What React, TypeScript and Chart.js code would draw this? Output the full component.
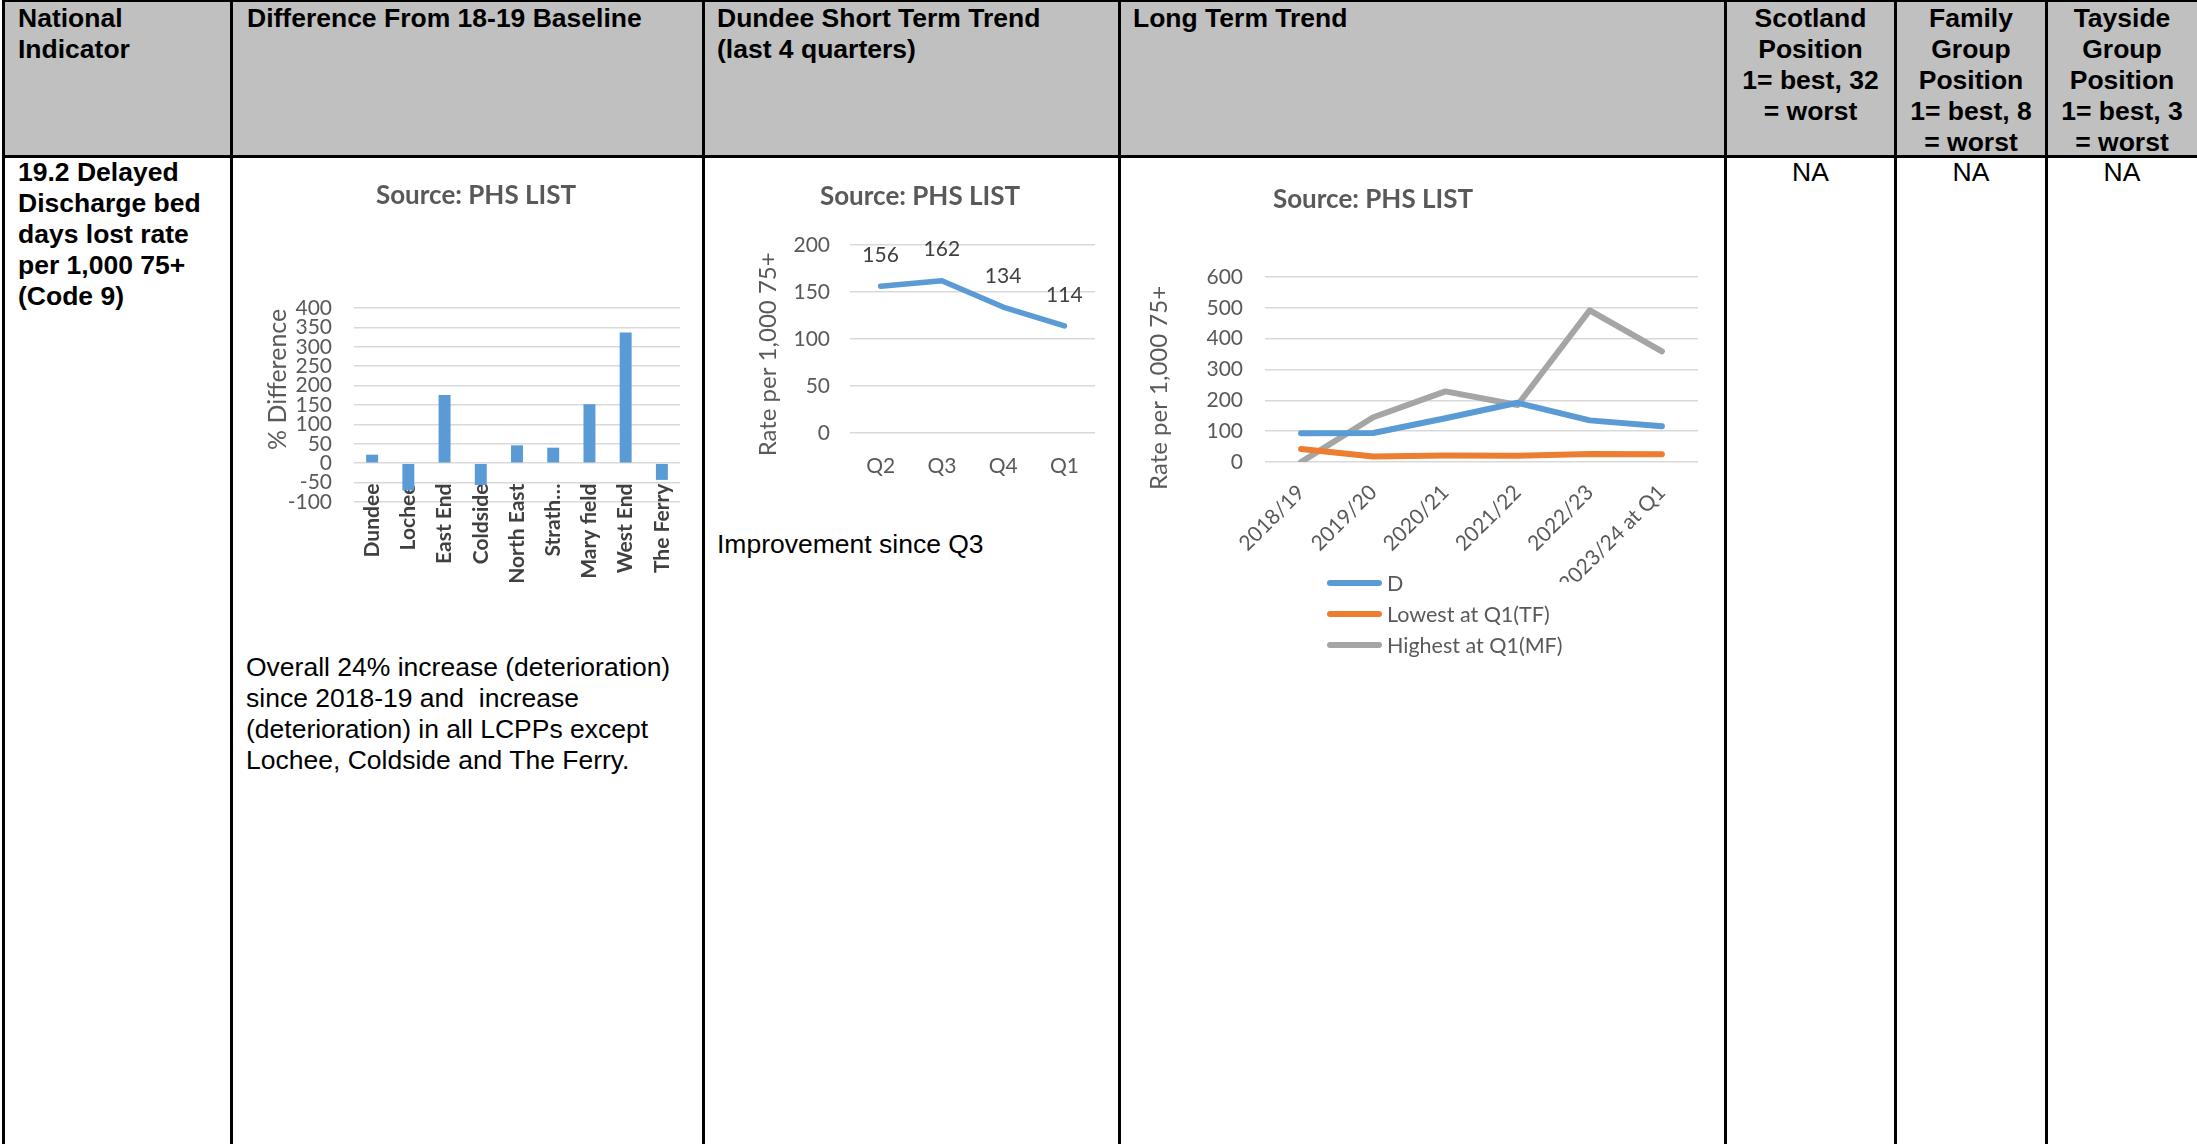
import React, { useEffect, useRef } from 'react';
import { Chart, registerables } from 'chart.js';

Chart.register(...registerables);

// ---------- data ----------
const lcppCategories = ['Dundee', 'Lochee', 'East End', 'Coldside', 'North East', 'Strath…', 'Mary field', 'West End', 'The Ferry'];
const lcppDifference = [22, -70, 176, -56, 46, 40, 152, 337, -43];
const diffTicks = { min: -100, max: 400, step: 50 };
const diffLabelLevel = -50; // category labels hang from the -50 line, as in the source

const quarterLabels = ['Q2', 'Q3', 'Q4', 'Q1'];
const quarterRates = [156, 162, 134, 114];
const quarterTicks = { min: 0, max: 200, step: 50 };

const yearLabels = ['2018/19', '2019/20', '2020/21', '2021/22', '2022/23', '2023/24 at Q1'];
const dundeeRates = [93, 94, 142, 192, 135, 116];
const lowestRates = [42, 18, 21, 20, 26, 25];
const highestRates = [0, 145, 229, 185, 492, 359];
const longTicks = { min: 0, max: 600, step: 100 };
const longSeriesNames = ['D', 'Lowest at Q1(TF)', 'Highest at Q1(MF)'];

// ---------- styles ----------
const CHART_FONT = 'Lato, "Open Sans", sans-serif';
const TEXT_GREY = '#595959';
const DARK_GREY = '#404040';
const GRID = '#d9d9d9';
const BLUE = '#5b9bd5';
const ORANGE = '#ed7d31';
const GREY = '#a5a5a5';
const TABLE_FONT = '"Liberation Sans", Arial, sans-serif';
const seriesColors = [BLUE, ORANGE, GREY];

const pointLabelPlugin = {
  id: 'pointLabels',
  afterDatasetsDraw(chart: any, _args: any, opts: any) {
    if (!opts || !opts.enabled) return;
    const ctx = chart.ctx;
    chart.data.datasets.forEach((ds: any, i: number) => {
      const meta = chart.getDatasetMeta(i);
      meta.data.forEach((pt: any, j: number) => {
        ctx.save();
        ctx.font = `${opts.size}px ${CHART_FONT}`;
        ctx.fillStyle = opts.color;
        ctx.textAlign = 'center';
        ctx.textBaseline = 'middle';
        ctx.fillText(String(ds.data[j]), pt.x, pt.y - opts.offset);
        ctx.restore();
      });
    });
  },
};

function fixedWidth(w: number) {
  return (scale: any) => {
    scale.width = w;
  };
}
function fixedHeight(h: number) {
  return (scale: any) => {
    scale.height = h;
  };
}
function noSidePadding(scale: any) {
  scale.paddingLeft = 0;
  scale.paddingRight = 0;
  scale.paddingTop = 0;
  scale.paddingBottom = 0;
}

const pad = (n: number) => ' '.repeat(n);

export default function App() {
  const barRef = useRef<HTMLCanvasElement>(null);
  const shortRef = useRef<HTMLCanvasElement>(null);
  const longRef = useRef<HTMLCanvasElement>(null);

  useEffect(() => {
    Chart.defaults.font.family = CHART_FONT;
    const charts: Chart[] = [];

    // ---- Chart 1: difference from baseline ----
    charts.push(
      new Chart(barRef.current as HTMLCanvasElement, {
        type: 'bar',
        data: {
          labels: lcppCategories,
          datasets: [
            {
              data: lcppDifference,
              backgroundColor: BLUE,
              barPercentage: 0.33,
              categoryPercentage: 1,
            },
          ],
        },
        options: {
          responsive: false,
          animation: false,
          layout: { padding: { left: 10, right: 0, top: 0, bottom: 100 } },
          plugins: {
            legend: { display: false },
            tooltip: { enabled: false },
            title: {
              display: true,
              text: 'Source: PHS LIST',
              color: TEXT_GREY,
              font: { size: 26, weight: 'bold', lineHeight: 1.2 },
              padding: { top: 20.4, bottom: 96.4 },
            },
          },
          scales: {
            x: {
              position: { y: diffLabelLevel } as any,
              grid: { display: false },
              border: { display: false },
              afterFit: noSidePadding,
              ticks: {
                color: DARK_GREY,
                font: { size: 21, weight: 'bold' },
                minRotation: 90,
                maxRotation: 90,
                autoSkip: false,
                padding: -7,
              },
            },
            y: {
              min: diffTicks.min,
              max: diffTicks.max,
              afterFit: fixedWidth(82),
              grid: { color: GRID, lineWidth: 1.5, drawTicks: false },
              border: { display: false },
              ticks: { stepSize: diffTicks.step, autoSkip: false, color: TEXT_GREY, font: { size: 21 }, padding: 22 },
              title: {
                display: true,
                text: pad(8) + '% Difference',
                color: TEXT_GREY,
                font: { size: 25, lineHeight: 0.5 },
                padding: { top: 0, bottom: 0 },
              },
            },
          },
        },
      })
    );

    // ---- Chart 2: short term trend ----
    charts.push(
      new Chart(shortRef.current as HTMLCanvasElement, {
        type: 'line',
        data: {
          labels: quarterLabels,
          datasets: [
            {
              data: quarterRates,
              borderColor: BLUE,
              borderWidth: 5.5,
              pointRadius: 0,
              tension: 0,
              borderCapStyle: 'round',
              borderJoinStyle: 'round',
            },
          ],
        },
        plugins: [pointLabelPlugin],
        options: {
          responsive: false,
          animation: false,
          layout: { padding: 0 },
          plugins: {
            legend: { display: false },
            tooltip: { enabled: false },
            pointLabels: { enabled: true, offset: 31, size: 21, color: DARK_GREY },
            title: {
              display: true,
              text: 'Source: PHS LIST',
              color: TEXT_GREY,
              font: { size: 26, weight: 'bold', lineHeight: 1.2 },
              padding: { top: 21.4, bottom: 32.4 },
            },
          } as any,
          scales: {
            x: {
              offset: true,
              grid: { display: false },
              border: { display: false },
              afterFit: fixedHeight(60),
              ticks: { color: TEXT_GREY, font: { size: 21 }, padding: 12.4, maxRotation: 0 },
            },
            y: {
              min: quarterTicks.min,
              max: quarterTicks.max,
              afterFit: fixedWidth(105),
              grid: { color: GRID, lineWidth: 1.5, drawTicks: false },
              border: { display: false },
              ticks: { stepSize: quarterTicks.step, autoSkip: false, color: TEXT_GREY, font: { size: 21 }, padding: 20 },
              title: {
                display: true,
                text: 'Rate per 1,000 75+' + pad(5),
                color: TEXT_GREY,
                font: { size: 24, lineHeight: 1.2 },
                padding: { top: 8.6, bottom: 0 },
              },
            },
          },
        },
      })
    );

    // ---- Chart 3: long term trend ----
    const seriesData = [dundeeRates, lowestRates, highestRates];
    charts.push(
      new Chart(longRef.current as HTMLCanvasElement, {
        type: 'line',
        data: {
          labels: yearLabels,
          datasets: longSeriesNames.map((name, i) => ({
            label: name,
            data: seriesData[i],
            borderColor: seriesColors[i],
            backgroundColor: seriesColors[i],
            borderWidth: 6,
            pointRadius: 0,
            tension: 0,
            borderCapStyle: 'round' as const,
            borderJoinStyle: 'round' as const,
          })),
        },
        options: {
          responsive: false,
          animation: false,
          layout: { padding: 0 },
          plugins: {
            legend: { display: false },
            tooltip: { enabled: false },
            title: {
              display: true,
              text: 'Source: PHS LIST',
              color: TEXT_GREY,
              font: { size: 26, weight: 'bold', lineHeight: 1.2 },
              padding: { top: 24.4, bottom: 61.4 },
            },
          },
          scales: {
            x: {
              offset: true,
              grid: { display: false },
              border: { display: false },
              afterFit: fixedHeight(120),
              ticks: {
                color: TEXT_GREY,
                font: { size: 21 },
                minRotation: 45,
                maxRotation: 45,
                autoSkip: false,
                padding: 10,
              },
            },
            y: {
              min: longTicks.min,
              max: longTicks.max,
              afterFit: fixedWidth(217),
              grid: { color: GRID, lineWidth: 1.5, drawTicks: false },
              border: { display: false },
              ticks: { stepSize: longTicks.step, autoSkip: false, color: TEXT_GREY, font: { size: 21 }, padding: 22 },
              title: {
                display: true,
                text: 'Rate per 1,000 75+' + pad(6),
                color: TEXT_GREY,
                font: { size: 24, lineHeight: 1.2 },
                padding: { top: 96.6, bottom: 0 },
              },
            },
          },
        },
      })
    );

    return () => charts.forEach((c) => c.destroy());
  }, []);

  const colLines = [3, 231, 703, 1119, 1725, 1895, 2046];
  const headerH = 156;

  const txt: React.CSSProperties = {
    position: 'absolute',
    fontFamily: TABLE_FONT,
    fontSize: '26.5px',
    lineHeight: '31px',
    color: '#000',
    whiteSpace: 'pre',
  };

  const centered = (left: number, right: number, top: number, bold: boolean, lines: string[]) => (
    <div style={{ ...txt, left, width: right - left, top, textAlign: 'center', fontWeight: bold ? 'bold' : 'normal' }}>
      {lines.map((l, i) => (
        <div key={i}>{l}</div>
      ))}
    </div>
  );

  const leftText = (left: number, top: number, bold: boolean, lines: string[]) => (
    <div style={{ ...txt, left, top, fontWeight: bold ? 'bold' : 'normal' }}>
      {lines.map((l, i) => (
        <div key={i}>{l}</div>
      ))}
    </div>
  );

  return (
    <div style={{ position: 'fixed', left: 0, top: 0, width: 2197, height: 1144, overflow: 'hidden', background: '#fff' }}>
      {/* header background */}
      <div style={{ position: 'absolute', left: 3, top: 0, width: 2194, height: headerH, background: '#c0c0c0' }} />
      {/* borders */}
      <div style={{ position: 'absolute', left: 3, top: 0, width: 2194, height: 2, background: '#000' }} />
      <div style={{ position: 'absolute', left: 3, top: headerH - 1, width: 2194, height: 2.5, background: '#000' }} />
      {colLines.map((x, i) => (
        <div key={i} style={{ position: 'absolute', left: x - 1, top: 0, width: i === 0 ? 3 : 2.5, height: 1144, background: '#000' }} />
      ))}

      {/* header text */}
      {leftText(18, 3, true, ['National', 'Indicator'])}
      {leftText(247, 3, true, ['Difference From 18-19 Baseline'])}
      {leftText(717, 3, true, ['Dundee Short Term Trend', '(last 4 quarters)'])}
      {leftText(1133, 3, true, ['Long Term Trend'])}
      {centered(1726, 1895, 3, true, ['Scotland', 'Position', '1= best, 32', '= worst'])}
      {centered(1896, 2046, 3, true, ['Family', 'Group', 'Position', '1= best, 8', '= worst'])}
      {centered(2047, 2197, 3, true, ['Tayside', 'Group', 'Position', '1= best, 3', '= worst'])}

      {/* body text */}
      {leftText(18, 157, true, ['19.2 Delayed', 'Discharge bed', 'days lost rate', 'per 1,000 75+', '(Code 9)'])}
      {centered(1726, 1895, 157, false, ['NA'])}
      {centered(1896, 2046, 157, false, ['NA'])}
      {centered(2047, 2197, 157, false, ['NA'])}
      {leftText(246, 652, false, [
        'Overall 24% increase (deterioration)',
        'since 2018-19 and  increase',
        '(deterioration) in all LCPPs except',
        'Lochee, Coldside and The Ferry.',
      ])}
      {leftText(717, 529, false, ['Improvement since Q3'])}

      {/* charts */}
      <canvas ref={barRef} width={418} height={442} style={{ position: 'absolute', left: 262, top: 160, width: 418, height: 442 }} />
      <canvas ref={shortRef} width={350} height={333} style={{ position: 'absolute', left: 745, top: 160, width: 350, height: 333 }} />
      <canvas ref={longRef} width={650} height={422} style={{ position: 'absolute', left: 1048, top: 160, width: 650, height: 422 }} />

      {/* legend for long-term chart */}
      {longSeriesNames.map((name, i) => (
        <div key={name} style={{ position: 'absolute', left: 1327, top: 583 + i * 31 - 15, height: 30, display: 'flex', alignItems: 'center' }}>
          <div style={{ width: 55, height: 5.5, borderRadius: 3, background: seriesColors[i] }} />
          <span style={{ marginLeft: 5, fontFamily: CHART_FONT, fontSize: 21.5, color: TEXT_GREY, whiteSpace: 'pre' }}>{name}</span>
        </div>
      ))}
    </div>
  );
}
